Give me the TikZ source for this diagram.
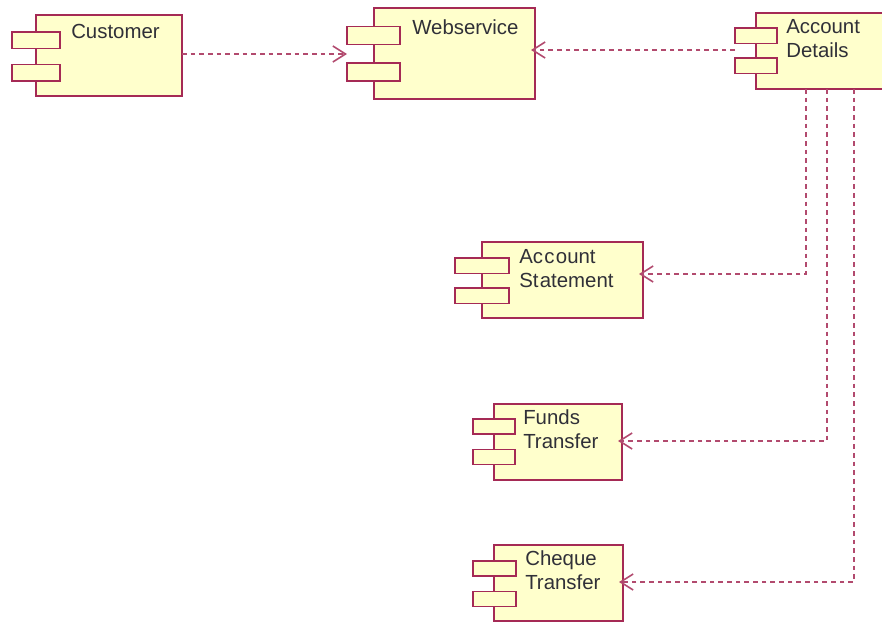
\documentclass[tikz,border=0pt]{standalone}
\usepackage{fontspec}
\setmainfont{Liberation Sans}
\usetikzlibrary{arrows.meta}
\definecolor{umlline}{HTML}{A52A55}
\definecolor{umlfill}{HTML}{FFFFCC}
\definecolor{umltext}{HTML}{303038}
\tikzset{
  compbox/.style={draw=umlline,fill=umlfill,line width=1.4pt,inner sep=0pt,outer sep=0pt,anchor=north west},
  comptab/.style={compbox},
  complabel/.style={text=umltext,font=\fontsize{15.3}{18}\selectfont,align=left,inner sep=0pt,anchor=base west},
  dep/.style={draw=umlline!85!white,line width=1.2pt,dash pattern=on 3.5pt off 3pt,shorten >=-3pt,
    -{Straight Barb[length=9.5pt,width=12pt,line width=1.2pt]}}
}
\newcommand{\comp}[9]{%
  \node[compbox,minimum width=(#4-#2)*0.75pt,minimum height=(#5-#3)*0.75pt] (#1) at (#2,#3) {};
  \node[comptab,minimum width=(#7-#6)*0.75pt,minimum height=(\tabh)*0.75pt] (#1a) at (#6,#8) {};
  \node[comptab,minimum width=(#7-#6)*0.75pt,minimum height=(\tabh)*0.75pt] (#1b) at (#6,#9) {};
}
\begin{document}
\begin{tikzpicture}[x=0.75pt,y=-0.75pt]
\useasboundingbox (0,0) rectangle (882,622);
\def\tabh{16.5}
\comp{cust}{36}{15}{182}{96}{12}{60}{32}{64.5}
\def\tabh{18}
\comp{web}{374}{8}{535}{99}{347}{400}{26.5}{63}
\def\tabh{15.5}
\comp{acc}{756}{13}{886}{89}{735}{777}{28}{58}
\comp{stm}{482}{242}{643}{318}{455}{509}{258}{288}
\def\tabh{15}
\comp{fun}{494}{404}{622}{480}{473}{515}{419}{449.5}
\comp{chq}{494}{545}{623}{621}{473}{516}{561}{591.5}

\node[complabel] (custl) at (71,38) {Customer};
\node[complabel] (webl) at (412,34) {Webservice};
\node[complabel] (accl) at (786,33) {Account};
\node[complabel] (accm) at (786,57) {Details};
\node[complabel] (stml) at (519,263) {Ac\kern1pt c\kern1pt ount};
\node[complabel] (stmm) at (519,287) {St\kern1pt atement};
\node[complabel] (funl) at (523,424) {Funds};
\node[complabel] (funm) at (523,448) {Transfer};
\node[complabel] (chql) at (525,565) {Cheque};
\node[complabel] (chqm) at (525,589) {Transfer};

\coordinate (y1) at (0,54);
\coordinate (y2) at (0,50);
\coordinate (c1) at (806,274);
\coordinate (c2) at (827,441);
\coordinate (c3) at (854,582);

\draw[dep,shorten >=0pt] (cust.east |- y1) -- (weba.west |- y1);
\draw[dep] (acca.west |- y2) -- (web.east |- y2);
\draw[dep] (acc.south -| c1) -- (c1) -- (stm.east |- c1);
\draw[dep] (acc.south -| c2) -- (c2) -- (fun.east |- c2);
\draw[dep] (acc.south -| c3) -- (c3) -- (chq.east |- c3);
\end{tikzpicture}
\end{document}
